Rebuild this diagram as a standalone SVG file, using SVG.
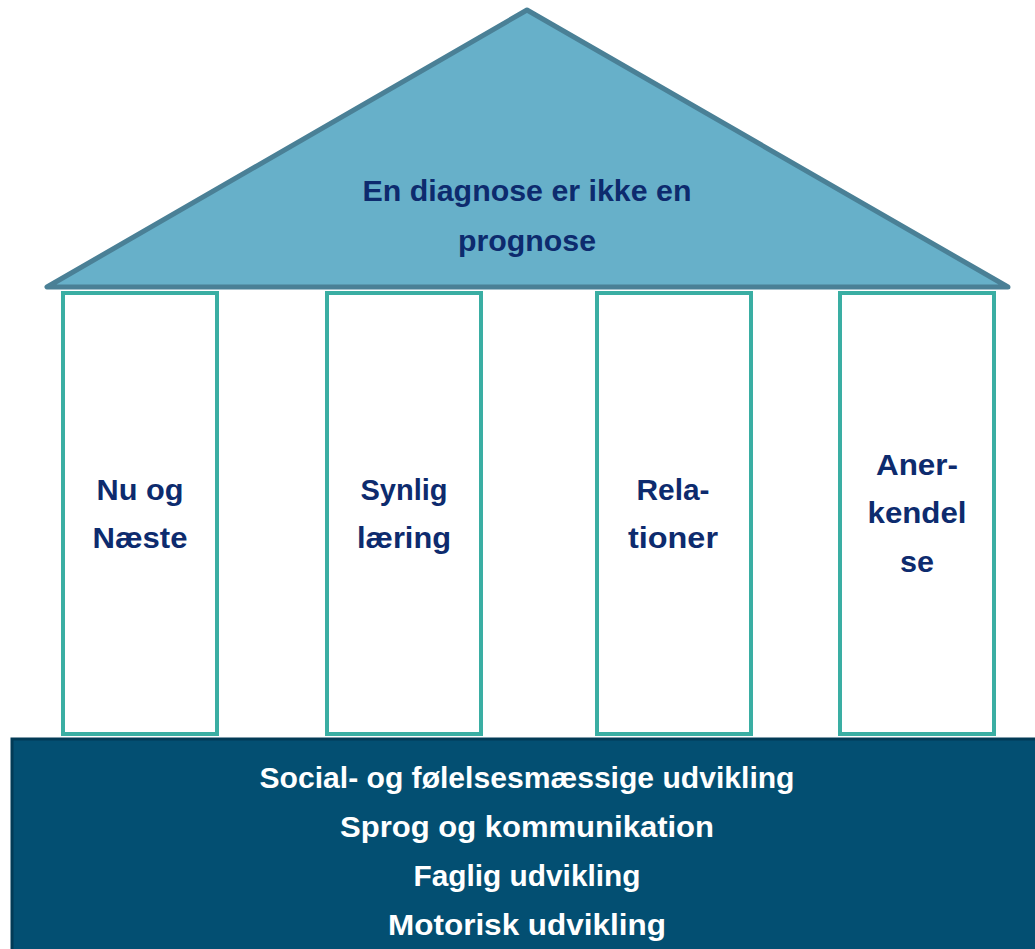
<svg xmlns="http://www.w3.org/2000/svg" width="1035" height="949" viewBox="0 0 1035 949">
<style>
.t{font-family:"Liberation Sans",Arial,sans-serif;font-weight:bold;font-size:30px;text-anchor:middle}
.dark{fill:#0d2b6e}
.light{fill:#ffffff}
.pillar{fill:#ffffff;stroke:#3aaea3;stroke-width:4}
</style>
<rect width="1035" height="949" fill="#ffffff"/>
<g id="roof">
<polygon points="527,10 47,287 1008,287" fill="#67b0c9" stroke="#4a8096" stroke-width="5" stroke-linejoin="round"/>
<text class="t dark" x="527" y="201" textLength="329" lengthAdjust="spacingAndGlyphs">En diagnose er ikke en</text>
<text class="t dark" x="527" y="251" textLength="138" lengthAdjust="spacingAndGlyphs">prognose</text>
</g>
<g id="pillar1">
<rect class="pillar" x="63" y="293" width="154" height="441"/>
<text class="t dark" x="140" y="500" textLength="87" lengthAdjust="spacingAndGlyphs">Nu og</text>
<text class="t dark" x="140" y="548" textLength="95" lengthAdjust="spacingAndGlyphs">Næste</text>
</g>
<g id="pillar2">
<rect class="pillar" x="327" y="293" width="154" height="441"/>
<text class="t dark" x="404" y="500" textLength="87" lengthAdjust="spacingAndGlyphs">Synlig</text>
<text class="t dark" x="404" y="548" textLength="94" lengthAdjust="spacingAndGlyphs">læring</text>
</g>
<g id="pillar3">
<rect class="pillar" x="597" y="293" width="154" height="441"/>
<text class="t dark" x="673" y="500" textLength="73" lengthAdjust="spacingAndGlyphs">Rela-</text>
<text class="t dark" x="673" y="548" textLength="90" lengthAdjust="spacingAndGlyphs">tioner</text>
</g>
<g id="pillar4">
<rect class="pillar" x="840" y="293" width="154" height="441"/>
<text class="t dark" x="917" y="475" textLength="82" lengthAdjust="spacingAndGlyphs">Aner-</text>
<text class="t dark" x="917" y="523" textLength="99" lengthAdjust="spacingAndGlyphs">kendel</text>
<text class="t dark" x="917" y="572" textLength="34" lengthAdjust="spacingAndGlyphs">se</text>
</g>
<g id="foundation">
<rect x="12" y="739" width="1030" height="215" fill="#034f72" stroke="#023b56" stroke-width="3"/>
<text class="t light" x="527" y="788" textLength="535" lengthAdjust="spacingAndGlyphs">Social- og følelsesmæssige udvikling</text>
<text class="t light" x="527" y="837" textLength="374" lengthAdjust="spacingAndGlyphs">Sprog og kommunikation</text>
<text class="t light" x="527" y="886" textLength="227" lengthAdjust="spacingAndGlyphs">Faglig udvikling</text>
<text class="t light" x="527" y="935" textLength="278" lengthAdjust="spacingAndGlyphs">Motorisk udvikling</text>
</g>
<g id="connectors"></g>
</svg>
